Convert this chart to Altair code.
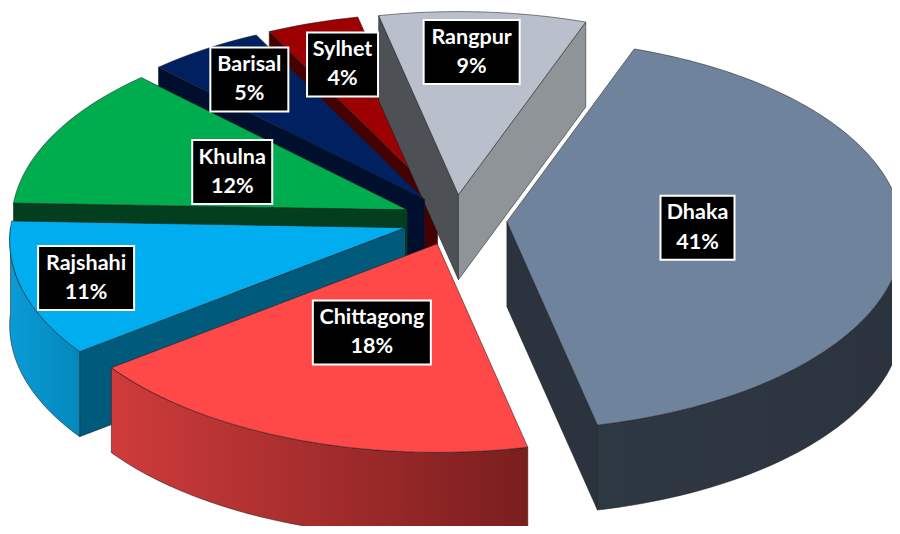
import math
import altair as alt
import pandas as pd

# Slices, clockwise from the back of the pie
NAMES = ["Rangpur", "Dhaka", "Chittagong", "Rajshahi", "Khulna", "Barisal", "Sylhet"]
VALUES = [9, 41, 18, 11, 12, 5, 4]

TOP = ["#B9C0CC", "#6F849C", "#FF4848", "#00AEEF", "#00AD4E", "#002060", "#9C0000"]
START_WALL = ["#4D5156", "#2B333E", "#7A1E1E", "#005A7C", "#033F1F", "#000F2E", "#450000"]
END_WALL = ["#8E9498", "#2B333E", "#7A1E1E", "#005A7C", "#033F1F", "#000F2E", "#450000"]
OUTER_L = ["#8E9498", "#2E3843", "#CF3B3B", "#0A9BD6", "#033F1F", "#000F2E", "#450000"]
OUTER_R = ["#8E9498", "#2B333E", "#7A1E1E", "#0388BC", "#033F1F", "#000F2E", "#450000"]

LABEL_FRAC = [0.77, 0.47, 0.47, 0.83, 0.49, 0.79, 0.75]
LABEL_DX = [-6, 5, 0, -2, 0, 0, 0]
BOX_HALF_W = [48, 37, 59, 48, 40, 39, 35.5]
PAINT_ORDER = ["Sylhet", "Rangpur", "Barisal", "Khulna", "Rajshahi", "Chittagong", "Dhaka"]

# 3-D pie geometry
CX, CY = 455, 220
RX, RY = 395, 195
PERSPECTIVE = 0.065
EXPLODE = 52
DEPTH = 85
ROTATION = -12.4

W, H = 884, 518
x_scale = alt.Scale(domain=[8, 892], nice=False, zero=False)
y_scale = alt.Scale(domain=[526, 8], nice=False, zero=False)
x_enc = alt.X("x:Q", scale=x_scale, axis=None)
y_enc = alt.Y("y:Q", scale=y_scale, axis=None)


def unit(deg):
    a = math.radians(deg)
    return math.sin(a), math.cos(a)


def local(deg, frac=1.0):
    sx, cy = unit(deg)
    s = 1 / (1 + PERSPECTIVE * cy * frac)
    return RX * sx * frac * s, -RY * cy * frac * s


def polygon(points, fill):
    closed = points + [points[0]]
    df = pd.DataFrame(
        {"x": [p[0] for p in closed], "y": [p[1] for p in closed], "i": range(len(closed))}
    )
    return (
        alt.Chart(df)
        .mark_line(
            fill=fill,
            stroke="#1a1a1a",
            strokeWidth=0.7,
            strokeOpacity=0.75,
            strokeJoin="round",
            clip=True,
        )
        .encode(x=x_enc, y=y_enc, order="i:Q")
    )


def arc_points(a0, a1, ax, ay, dy=0.0):
    n = max(2, int(abs(a1 - a0) / 1.5))
    out = []
    for k in range(n + 1):
        lx, ly = local(a0 + (a1 - a0) * k / n)
        out.append((ax + lx, ay + ly + dy))
    return out


# Angles from the values
angles = {}
acc = ROTATION
total = sum(VALUES)
for name, v in zip(NAMES, VALUES):
    sweep = 360 * v / total
    angles[name] = (acc, acc + sweep)
    acc += sweep

layers = []
label_rows = []
for name in PAINT_ORDER:
    idx = NAMES.index(name)
    a0, a1 = angles[name]
    mid = (a0 + a1) / 2
    mx, my = unit(mid)
    ax = CX + EXPLODE * mx
    ay = CY - EXPLODE * my * 0.4875

    # cut faces that look toward the viewer
    if math.sin(math.radians(a0)) < 0:
        lx, ly = local(a0)
        layers.append(
            polygon(
                [(ax, ay), (ax + lx, ay + ly), (ax + lx, ay + ly + DEPTH), (ax, ay + DEPTH)],
                START_WALL[idx],
            )
        )
    if math.sin(math.radians(a1)) > 0:
        lx, ly = local(a1)
        layers.append(
            polygon(
                [(ax, ay), (ax + lx, ay + ly), (ax + lx, ay + ly + DEPTH), (ax, ay + DEPTH)],
                END_WALL[idx],
            )
        )

    # outer rim, front half only
    w0, w1 = max(a0, 90), min(a1, 270)
    if w1 > w0:
        upper = arc_points(w0, w1, ax, ay)
        lower = arc_points(w0, w1, ax, ay, DEPTH)
        # gradient runs left to right on screen
        gradient = alt.Gradient(
            gradient="linear",
            x1=0,
            x2=1,
            y1=0,
            y2=0,
            stops=[
                alt.GradientStop(color=OUTER_L[idx], offset=0),
                alt.GradientStop(color=OUTER_R[idx], offset=1),
            ],
        )
        layers.append(polygon(upper + lower[::-1], gradient))

    # top face
    layers.append(polygon([(ax, ay)] + arc_points(a0, a1, ax, ay), TOP[idx]))

    lx, ly = local(mid, LABEL_FRAC[idx])
    label_rows.append(
        {
            "name": name,
            "pct": f"{VALUES[idx]}%",
            "x": ax + lx + LABEL_DX[idx],
            "y": ay + ly,
            "hw": BOX_HALF_W[idx],
        }
    )

labels = pd.DataFrame(label_rows)
labels["x0"] = labels["x"] - labels["hw"]
labels["x1"] = labels["x"] + labels["hw"]
labels["y0"] = labels["y"] - 32
labels["y1"] = labels["y"] + 32
labels["y_name"] = labels["y"] - 14.5
labels["y_pct"] = labels["y"] + 15

boxes = (
    alt.Chart(labels)
    .mark_rect(fill="#000000", stroke="#FFFFFF", strokeWidth=2)
    .encode(
        x=alt.X("x0:Q", scale=x_scale, axis=None),
        x2="x1:Q",
        y=alt.Y("y0:Q", scale=y_scale, axis=None),
        y2="y1:Q",
    )
)
FONT = dict(font="Lato", fontSize=21.5, fontWeight="bold", color="#FFFFFF", align="center", baseline="middle")
names_text = (
    alt.Chart(labels)
    .mark_text(**FONT)
    .encode(x=x_enc, y=alt.Y("y_name:Q", scale=y_scale, axis=None), text="name:N")
)
pct_text = (
    alt.Chart(labels)
    .mark_text(**FONT)
    .encode(x=x_enc, y=alt.Y("y_pct:Q", scale=y_scale, axis=None), text="pct:N")
)

chart = (
    alt.layer(*layers, boxes, names_text, pct_text)
    .properties(width=W, height=H, padding=0, background="#FFFFFF", autosize=alt.AutoSizeParams(type="none"))
    .configure_view(stroke=None)
)
chart.save("out.html", embed_options={"renderer": "svg", "actions": False})
